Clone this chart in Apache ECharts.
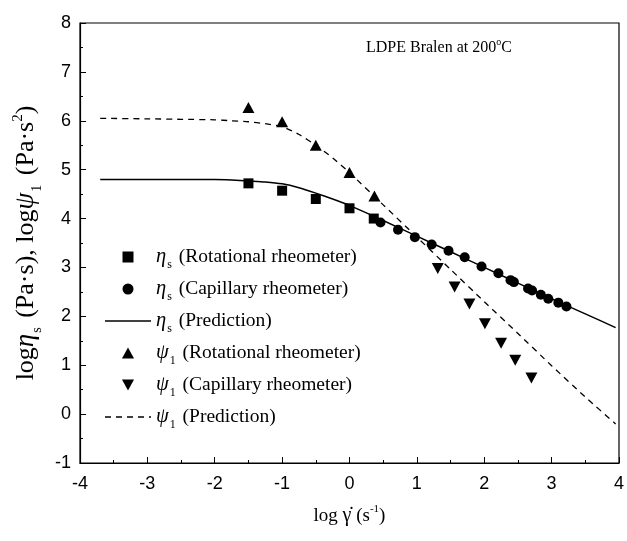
<!DOCTYPE html>
<html>
<head>
<meta charset="utf-8">
<script src="https://cdn.jsdelivr.net/npm/echarts@6/dist/echarts.min.js"></script>
<style>html,body{margin:0;padding:0;background:#fff;}#c{width:627px;height:541px;}</style>
</head>
<body>
<div id="c"></div>
<script>
// x = log shear rate (1/s), y = log viscosity / log psi1
const etaRotX = [-1.5, -1.0, -0.5, 0.0, 0.36];
const etaRotY = [4.72, 4.57, 4.40, 4.21, 4.00];
const etaCapX = [0.46, 0.72, 0.97, 1.22, 1.47, 1.71, 1.96, 2.21, 2.39, 2.44, 2.65, 2.71, 2.84, 2.95, 3.10, 3.22];
const etaCapY = [3.92, 3.77, 3.62, 3.47, 3.34, 3.21, 3.02, 2.88, 2.74, 2.70, 2.57, 2.53, 2.44, 2.36, 2.28, 2.20];
const psiRotX = [-1.5, -1.0, -0.5, 0.0, 0.37];
const psiRotY = [6.27, 5.98, 5.50, 4.94, 4.46];
const psiCapX = [1.31, 1.56, 1.78, 2.01, 2.25, 2.46, 2.70];
const psiCapY = [2.98, 2.60, 2.25, 1.85, 1.45, 1.10, 0.74];
const etaPredX = [-3.7, -3.0, -2.5, -2.0, -1.75, -1.5, -1.25, -1.0, -0.75, -0.5, -0.25, 0, 0.5, 1, 1.5, 2, 2.5, 3, 3.5, 3.95];
const etaPredY = [4.80, 4.80, 4.80, 4.80, 4.79, 4.77, 4.75, 4.71, 4.63, 4.52, 4.40, 4.27, 3.96, 3.64, 3.32, 3.00, 2.68, 2.36, 2.05, 1.77];
const psiPredX = [-3.7, -3.0, -2.5, -2.0, -1.75, -1.5, -1.25, -1.0, -0.75, -0.5, -0.25, 0, 0.5, 1, 1.5, 2, 2.5, 3, 3.5, 3.95];
const psiPredY = [6.05, 6.04, 6.03, 6.02, 6.00, 5.98, 5.94, 5.88, 5.72, 5.50, 5.24, 4.94, 4.28, 3.62, 2.96, 2.30, 1.65, 0.99, 0.35, -0.20];

const xTickMin = -4, xTickMax = 4;
const yTickMin = -1, yTickMax = 8;

const zip = (xs, ys) => xs.map((x, i) => [x, ys[i]]);
const serif = 'Liberation Serif';
const sans = 'Liberation Sans';

const legendNames = {
  etaRot: '{g|η}{sub|s}{t| (Rotational rheometer)}',
  etaCap: '{g|η}{sub|s}{t| (Capillary rheometer)}',
  etaPred: '{g|η}{sub|s}{t| (Prediction)}',
  psiRot: '{g|ψ}{sub|1}{t| (Rotational rheometer)}',
  psiCap: '{g|ψ}{sub|1}{t| (Capillary rheometer)}',
  psiPred: '{g|ψ}{sub|1}{t| (Prediction)}'
};

const richBase = {
  t: { fontFamily: serif, fontSize: 19.5, lineHeight: 22, color: '#000' },
  g: { fontFamily: serif, fontSize: 20.5, fontStyle: 'italic', lineHeight: 22, color: '#000' },
  sub: { fontFamily: serif, fontSize: 12, lineHeight: 22, height: 6, verticalAlign: 'bottom', color: '#000', padding: [0, 2, 0, 1] },
  sup: { fontFamily: serif, fontSize: 12, lineHeight: 22, height: 10, verticalAlign: 'top', color: '#000', padding: [0, 1, 0, 1] }
};

const dashIcon = 'path://M0,0H6V1.4H0Z M11,0H17V1.4H11Z M22,0H28V1.4H22Z M33,0H39V1.4H33Z M44,0H46V1.4H44Z';

const chart = echarts.init(document.getElementById('c'), null, { renderer: 'canvas' });
chart.setOption({
  backgroundColor: '#fff',
  animation: false,
  title: {
    text: '{t|LDPE Bralen at 200}{sup|o}{t|C}',
    left: 361, top: 33,
    textStyle: {
      rich: {
        t: { fontFamily: serif, fontSize: 16, fontWeight: 'normal', lineHeight: 20, color: '#000' },
        sup: { fontFamily: serif, fontSize: 10, fontWeight: 'normal', lineHeight: 20, height: 9, verticalAlign: 'top', color: '#000' }
      }
    }
  },
  grid: { left: 80, right: 6, top: 23, bottom: 78, show: true, borderColor: '#000', borderWidth: 1.2, backgroundColor: 'transparent' },
  legend: {
    orient: 'vertical', left: 100, top: 242,
    itemWidth: 46, itemHeight: 11, itemGap: 8,
    symbolKeepAspect: true,
    formatter: n => legendNames[n],
    textStyle: { rich: richBase },
    data: [
      { name: 'etaRot', icon: 'path://M0,0H10V10H0Z' },
      { name: 'etaCap', icon: 'path://M5,0A5,5 0 1,1 5,10A5,5 0 1,1 5,0Z' },
      { name: 'etaPred', icon: 'path://M0,0H46V1.6H0Z' },
      { name: 'psiRot', icon: 'path://M5.5,0L11,10L0,10Z' },
      { name: 'psiCap', icon: 'path://M0,0L11,0L5.5,10Z' },
      { name: 'psiPred', icon: dashIcon }
    ]
  },
  xAxis: {
    type: 'value', min: xTickMin, max: xTickMax, interval: 1,
    name: '{t|log }{g|γ̇}{t| (s}{sup|-1}{t|)}',
    nameLocation: 'middle', nameGap: 41,
    nameTextStyle: { rich: {
      t: { fontFamily: serif, fontSize: 19, lineHeight: 24, color: '#000' },
      g: { fontFamily: serif, fontSize: 20, lineHeight: 24, color: '#000' },
      sup: { fontFamily: serif, fontSize: 11, lineHeight: 24, height: 10, verticalAlign: 'top', color: '#000' }
    } },
    axisLine: { onZero: false, lineStyle: { color: '#000', width: 1.2 } },
    axisTick: { inside: true, length: 6, lineStyle: { color: '#000', width: 1 } },
    minorTick: { show: true, splitNumber: 2, length: 3, lineStyle: { color: '#000', width: 1 } },
    splitLine: { show: false },
    axisLabel: { fontFamily: sans, fontSize: 18, color: '#000', margin: 12 }
  },
  yAxis: {
    type: 'value', min: yTickMin, max: yTickMax, interval: 1,
    name: '{t|log}{g|η}{sub|s}{t| (Pa·s), log}{g|ψ}{sub|1}{t| (Pa·s}{sup|2}{t|)}',
    nameLocation: 'middle', nameGap: 38,
    nameTextStyle: { rich: {
      t: { fontFamily: serif, fontSize: 26, lineHeight: 30, color: '#000' },
      g: { fontFamily: serif, fontSize: 27, fontStyle: 'italic', lineHeight: 30, color: '#000' },
      sub: { fontFamily: serif, fontSize: 14, lineHeight: 30, height: 8, verticalAlign: 'bottom', color: '#000', padding: [0, 3, 0, 1] },
      sup: { fontFamily: serif, fontSize: 15, lineHeight: 30, height: 13, verticalAlign: 'top', color: '#000' }
    } },
    axisLine: { onZero: false, lineStyle: { color: '#000', width: 1.2 } },
    axisTick: { inside: true, length: 6, lineStyle: { color: '#000', width: 1 } },
    minorTick: { show: true, splitNumber: 2, length: 3, lineStyle: { color: '#000', width: 1 } },
    splitLine: { show: false },
    axisLabel: { fontFamily: sans, fontSize: 18, color: '#000', margin: 9 }
  },
  series: [
    { name: 'etaRot', type: 'scatter', symbol: 'rect', symbolSize: 10, itemStyle: { color: '#000', opacity: 1 }, data: zip(etaRotX, etaRotY), z: 5 },
    { name: 'etaCap', type: 'scatter', symbol: 'circle', symbolSize: 10, itemStyle: { color: '#000', opacity: 1 }, data: zip(etaCapX, etaCapY), z: 5 },
    { name: 'etaPred', type: 'line', symbol: 'none', smooth: 0.2, lineStyle: { color: '#000', width: 1.5 }, itemStyle: { color: '#000' }, data: zip(etaPredX, etaPredY) },
    { name: 'psiRot', type: 'scatter', symbol: 'triangle', symbolSize: [12, 11], itemStyle: { color: '#000', opacity: 1 }, data: zip(psiRotX, psiRotY), z: 5 },
    { name: 'psiCap', type: 'scatter', symbol: 'triangle', symbolRotate: 180, symbolSize: [12, 11], itemStyle: { color: '#000', opacity: 1 }, data: zip(psiCapX, psiCapY), z: 5 },
    { name: 'psiPred', type: 'line', symbol: 'none', smooth: 0.2, lineStyle: { color: '#000', width: 1.3, type: [6, 5] }, itemStyle: { color: '#000' }, data: zip(psiPredX, psiPredY) }
  ]
});
</script>
</body>
</html>
